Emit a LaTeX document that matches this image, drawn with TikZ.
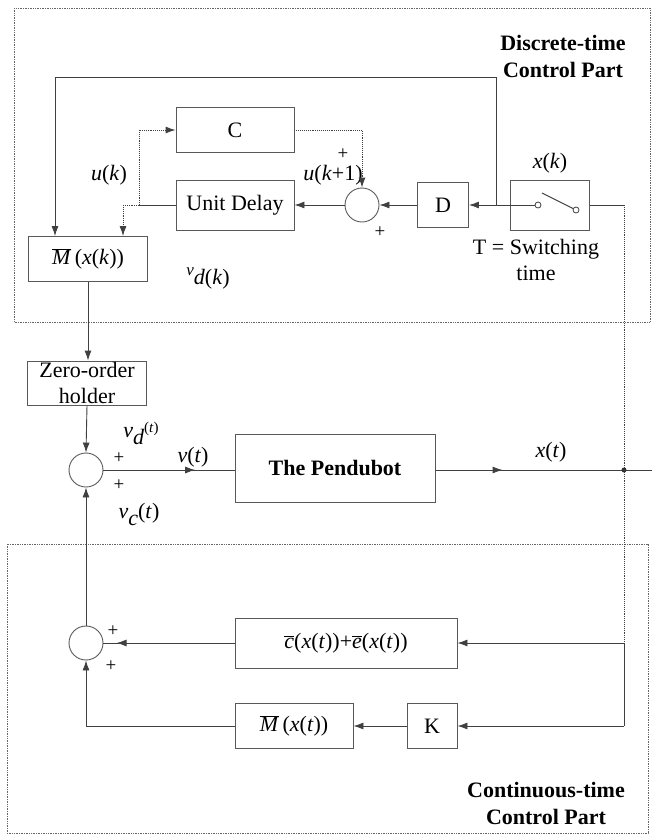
\documentclass[tikz,border=0pt]{standalone}
\usepackage{fontspec}
\setmainfont{Liberation Serif}
\usetikzlibrary{arrows.meta,decorations.markings}

\tikzset{midarrow/.style={draw=black!75, line width=0.9pt, postaction={decorate},
    decoration={markings, mark=at position #1 with {\arrow{Latex[length=10pt,width=7pt]}}}}}

\begin{document}
\begin{tikzpicture}[x=1pt,y=-1pt]
	\tikzstyle{every node}=[font=\fontsize{22}{26}\selectfont, text=black]
	\tikzstyle{block}=[draw=black!65, line width=0.9pt, rectangle, inner sep=0pt]
	\tikzstyle{sumnode}=[draw=black!65, line width=0.9pt, circle, minimum size=34pt, inner sep=0pt]
	\tikzstyle{contact}=[draw=black!75, line width=0.8pt, circle, minimum size=6pt, inner sep=0pt, fill=white]
	\tikzstyle{wire}=[draw=black!75, line width=0.9pt]
	\tikzstyle{sig}=[wire, -{Latex[length=10pt,width=7pt]}]
	\tikzstyle{dotwire}=[wire, densely dotted]
	\tikzstyle{frame}=[draw=black!60, line width=0.7pt, densely dotted]
	\tikzstyle{plus}=[font=\fontsize{19}{19}\selectfont]
	\tikzstyle{title}=[font=\fontsize{22}{27}\selectfont\bfseries, align=center]

	\useasboundingbox (0,0) rectangle (652,836);

	%% frames
	\draw [frame] (14,8) rectangle (650,322);
	\draw [frame] (7,544) rectangle (648,833);

	%% discrete-time part
	\node [title] (dlabel) at (563,56) {Discrete-time\\Control Part};
	\node [block, minimum width=118pt, minimum height=45pt] (ctrl) at (235,130) {C};
	\node [block, minimum width=118pt, minimum height=50pt] (delay) at (235,205) {Unit Delay};
	\node [sumnode] (sumd) at (362,205) {};
	\node [block, minimum width=51pt, minimum height=45pt] (dblk) at (443,205) {D};
	\node [block, minimum width=79pt, minimum height=50pt] (switch) at (550,205) {};
	\node [contact] (cleft) at (538,205) {};
	\node [contact] (cright) at (576,210) {};
	\node [block, minimum width=119pt, minimum height=45pt] (mk) at (88,259) {$\overline{\mbox{\textit{M}}}\,$(\textit{x}(\textit{k}))};
	\node (xk) at (550,163) {\textit{x}(\textit{k})};
	\node [align=center] (tsw) at (536,260) {T = Switching\\time};
	\node (uk) at (109,175) {\textit{u}(\textit{k})};
	\node (ukp) at (333,175) {\textit{u}(\textit{k}+1)};
	\node [plus] (pa) at (343,154) {+};
	\node [plus] (pb) at (380,232) {+};
	\node (vdk) at (208,278) {{\fontsize{17}{17}\selectfont\textit{v}}\raisebox{-9pt}{\textit{d}(\textit{k})}};

	\coordinate (ju) at (139,205);
	\coordinate (jm) at (123,205);
	\coordinate (jd) at (496,205);
	\coordinate (jt) at (496,77);
	\coordinate (jl) at (55,77);
	\coordinate (jr) at (624,205);
	\coordinate (blade) at (542,193);

	\draw [wire] (switch.west) -- (cleft);
	\draw [wire] (blade) -- (cright);
	\draw [sig] (switch.west) -- (dblk.east);
	\draw [sig] (dblk.west) -- (sumd.east);
	\draw [sig] (sumd.west) -- (delay.east);
	\draw [wire] (delay.west) -- (ju);
	\draw [sig, densely dotted] (ju) |- (ctrl.west);
	\draw [dotwire] (ju) -- (jm);
	\draw [sig, densely dotted] (jm) -- (jm |- mk.north);
	\draw [sig, densely dotted] (ctrl.east) -| (sumd.north);
	\draw [sig] (jd) -- (jt) -- (jl) -- (jl |- mk.north);
	\draw [wire] (switch.east) -- (jr);

	%% plant
	\node [block, minimum width=119pt, minimum height=44pt, align=center] (zoh) at (87,383) {Zero-order\\holder};
	\node [sumnode] (sumv) at (86,470) {};
	\node [block, minimum width=200pt, minimum height=68pt, font=\fontsize{22}{26}\selectfont\bfseries] (pend) at (335,468) {The Pendubot};
	\node (vdt) at (141,433) {\textit{v}\raisebox{-7pt}{\textit{d}}\raisebox{5pt}{\fontsize{15}{15}\selectfont(\textit{t})}};
	\node [plus] (pc) at (119,458) {+};
	\node [plus] (pd) at (119,485) {+};
	\node (vct) at (139,514) {\textit{v}\raisebox{-7pt}{\textit{c}}(\textit{t})};
	\node (vt) at (193,457) {\textit{v}(\textit{t})};
	\node (xt) at (551,452) {\textit{x}(\textit{t})};

	\coordinate (jx) at (624,470);
	\coordinate (xend) at (652,470);

	\draw [sig] (mk.south) -- (mk.south |- zoh.north);
	\draw [sig] (zoh.south) -- (sumv.north);
	\draw [midarrow=0.7] (sumv.east) -- (pend.west |- sumv.east);
	\draw [midarrow=0.31] (pend.east |- jx) -- (xend);
	\draw [dotwire] (jr) -- (jx);
	\fill [black!80] (jx) circle (2.5pt);

	%% continuous-time part
	\node [sumnode] (sumc) at (86,643) {};
	\node [block, minimum width=222pt, minimum height=50pt] (ce) at (346,643) {$\overline{\mbox{\textit{c}}}$(\textit{x}(\textit{t}))+$\overline{\mbox{\textit{e}}}$(\textit{x}(\textit{t}))};
	\node [block, minimum width=118pt, minimum height=45pt] (mt) at (294,726) {$\overline{\mbox{\textit{M}}}\,$(\textit{x}(\textit{t}))};
	\node [block, minimum width=50pt, minimum height=45pt] (kblk) at (432,726) {K};
	\node [plus] (pe) at (113,631) {+};
	\node [plus] (pf) at (111,666) {+};
	\node [title] (clabel) at (546,803) {Continuous-time\\Control Part};

	\coordinate (jc) at (624,643);
	\coordinate (jk) at (624,726);

	\draw [dotwire] (jx) -- (jc);
	\draw [wire] (jc) -- (jk);
	\draw [sig] (jc) -- (ce.east);
	\draw [sig] (jk) -- (kblk.east);
	\draw [sig] (kblk.west) -- (mt.east);
	\draw [sig] (mt.west) -| (sumc.south);
	\draw [midarrow=0.9] (ce.west) -- (sumc.east);
	\draw [sig] (sumc.north) -- (sumv.south);

\end{tikzpicture}
\end{document}
